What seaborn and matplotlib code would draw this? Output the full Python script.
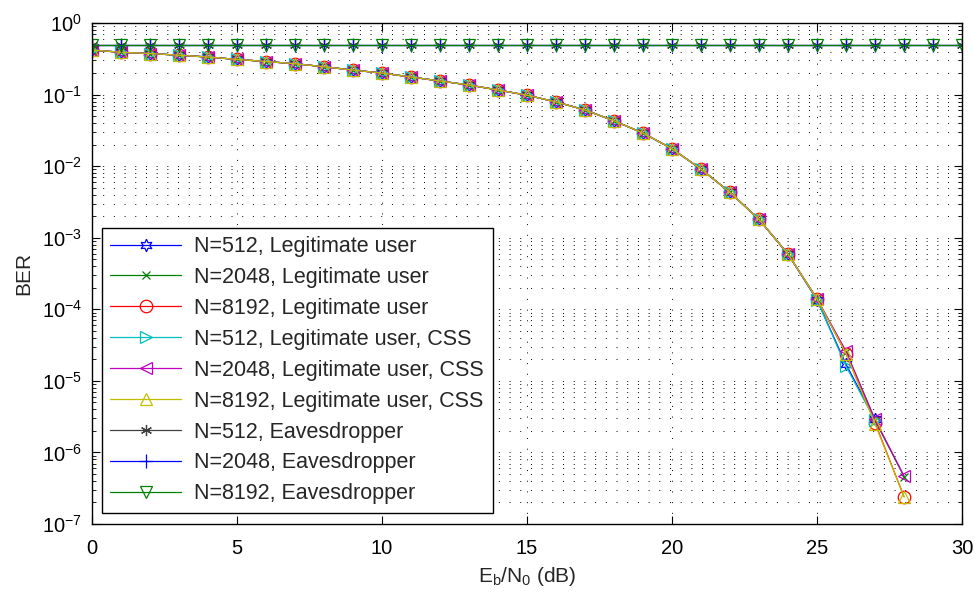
import numpy as np
import matplotlib.pyplot as plt
import seaborn as sns
from matplotlib.ticker import LogLocator, NullFormatter, LogFormatterSciNotation

sns.set_style('ticks')
plt.rcParams['font.family'] = ['Liberation Sans', 'DejaVu Sans']
plt.rcParams['mathtext.fontset'] = 'custom'
plt.rcParams['mathtext.rm'] = 'Liberation Sans'
plt.rcParams['mathtext.it'] = 'Liberation Sans'

# Eb/N0 (dB) grids
snr_legit28 = list(range(0, 29))
snr_legit27 = list(range(0, 28))
snr_eve = list(range(0, 31))

# BER of the legitimate user
ber_512 = [0.42, 0.39, 0.375, 0.355, 0.335, 0.31, 0.29, 0.27, 0.245, 0.22,
           0.2, 0.176, 0.155, 0.136, 0.116, 0.098, 0.079, 0.061, 0.043, 0.029,
           0.0175, 0.0091, 0.0043, 0.0018, 5.9e-4, 1.35e-4, 1.7e-5, 2.9e-6]
ber_2048 = [0.42, 0.39, 0.375, 0.355, 0.335, 0.31, 0.29, 0.27, 0.245, 0.22,
            0.2, 0.176, 0.155, 0.136, 0.116, 0.098, 0.079, 0.061, 0.043, 0.029,
            0.0175, 0.0091, 0.0043, 0.0018, 5.9e-4, 1.4e-4, 2.5e-5, 2.8e-6, 4.6e-7]
ber_8192 = [0.42, 0.39, 0.375, 0.355, 0.335, 0.31, 0.29, 0.27, 0.245, 0.22,
            0.2, 0.176, 0.155, 0.136, 0.116, 0.098, 0.079, 0.061, 0.043, 0.029,
            0.0175, 0.0091, 0.0043, 0.0018, 5.9e-4, 1.4e-4, 2.4e-5, 2.6e-6, 2.4e-7]
ber_512_css = [0.42, 0.39, 0.375, 0.355, 0.335, 0.31, 0.29, 0.27, 0.245, 0.22,
               0.2, 0.176, 0.155, 0.136, 0.116, 0.098, 0.079, 0.061, 0.043, 0.029,
               0.0175, 0.0091, 0.0043, 0.0018, 5.9e-4, 1.35e-4, 1.6e-5, 2.8e-6]
ber_2048_css = [0.42, 0.39, 0.375, 0.355, 0.335, 0.31, 0.29, 0.27, 0.245, 0.22,
                0.2, 0.176, 0.155, 0.136, 0.116, 0.098, 0.079, 0.061, 0.043, 0.029,
                0.0175, 0.0091, 0.0043, 0.0018, 5.9e-4, 1.4e-4, 2.6e-5, 2.9e-6, 4.7e-7]
ber_8192_css = [0.42, 0.39, 0.375, 0.355, 0.335, 0.31, 0.29, 0.27, 0.245, 0.22,
                0.2, 0.176, 0.155, 0.136, 0.116, 0.098, 0.079, 0.061, 0.043, 0.029,
                0.0175, 0.0091, 0.0043, 0.0018, 5.9e-4, 1.4e-4, 2.4e-5, 2.5e-6, 2.4e-7]

# BER of the eavesdropper (stays around 0.5)
ber_eve_512 = [0.5, 0.5, 0.5, 0.5, 0.5, 0.5, 0.5, 0.5, 0.5, 0.5, 0.5,
               0.5, 0.5, 0.5, 0.5, 0.5, 0.5, 0.5, 0.5, 0.5, 0.5,
               0.5, 0.5, 0.5, 0.5, 0.5, 0.5, 0.5, 0.5, 0.5, 0.5]
ber_eve_2048 = [0.5, 0.5, 0.5, 0.5, 0.5, 0.5, 0.5, 0.5, 0.5, 0.5, 0.5,
                0.5, 0.5, 0.5, 0.5, 0.5, 0.5, 0.5, 0.5, 0.5, 0.5,
                0.5, 0.5, 0.5, 0.5, 0.5, 0.5, 0.5, 0.5, 0.5, 0.5]
ber_eve_8192 = [0.5, 0.5, 0.5, 0.5, 0.5, 0.5, 0.5, 0.5, 0.5, 0.5, 0.5,
                0.5, 0.5, 0.5, 0.5, 0.5, 0.5, 0.5, 0.5, 0.5, 0.5,
                0.5, 0.5, 0.5, 0.5, 0.5, 0.5, 0.5, 0.5, 0.5, 0.5]

labels = ['N=512, Legitimate user', 'N=2048, Legitimate user',
          'N=8192, Legitimate user', 'N=512, Legitimate user, CSS',
          'N=2048, Legitimate user, CSS', 'N=8192, Legitimate user, CSS',
          'N=512, Eavesdropper', 'N=2048, Eavesdropper', 'N=8192, Eavesdropper']

x_ticks = [0, 5, 10, 15, 20, 25, 30]
y_ticks = [1e-7, 1e-6, 1e-5, 1e-4, 1e-3, 1e-2, 1e-1, 1e0]

series = [
    (snr_legit27, ber_512, (0, 0, 1), (6, 1, 0), 9),
    (snr_legit28, ber_2048, (0, 0.5, 0), 'x', 6),
    (snr_legit28, ber_8192, (1, 0, 0), 'o', 9),
    (snr_legit27, ber_512_css, (0, 0.75, 0.75), '>', 9),
    (snr_legit28, ber_2048_css, (0.75, 0, 0.75), '<', 9),
    (snr_legit28, ber_8192_css, (0.75, 0.75, 0), '^', 9),
    (snr_eve, ber_eve_512, (0.25, 0.25, 0.25), (6, 2, 0), 8),
    (snr_eve, ber_eve_2048, (0, 0, 1), '+', 10),
    (snr_eve, ber_eve_8192, (0, 0.5, 0), 'v', 9),
]

fig = plt.figure(figsize=(9.74, 5.92), dpi=100)
ax = fig.add_axes([0.0945, 0.1149, 0.8932, 0.8462])

for (xs, ys, col, mk, ms), lab in zip(series, labels):
    sns.lineplot(x=xs, y=ys, ax=ax, color=col, marker=mk, markersize=ms,
                 markerfacecolor='none', markeredgecolor=col,
                 markeredgewidth=0.9, linewidth=0.9, label=lab)

ax.set_yscale('log')
ax.set_xlim(0, 30)
ax.set_ylim(1e-7, 1)
ax.set_xticks(x_ticks)
ax.set_yticks(y_ticks)
ax.yaxis.set_major_formatter(LogFormatterSciNotation())
ax.yaxis.set_minor_locator(LogLocator(base=10, subs=np.arange(2, 10), numticks=100))
ax.yaxis.set_minor_formatter(NullFormatter())
ax.set_ylim(1e-7, 1)

dots = (0, (1, 10))
ax.grid(True, which='major', axis='both', linestyle=dots, color='black',
        linewidth=0.7)
ax.grid(True, which='minor', axis='y', linestyle=dots, color='black',
        linewidth=0.7)

ax.tick_params(which='both', direction='in', top=True, right=True,
               labelsize=14.5, colors='black')
ax.tick_params(which='major', length=6)
ax.tick_params(which='minor', length=3)
ax.tick_params(axis='x', which='major', pad=11)
ax.tick_params(axis='y', which='major', pad=7)
for sp in ax.spines.values():
    sp.set_color('black')
    sp.set_linewidth(1.0)

ax.set_xlabel(r'$\mathrm{E_b/N_0}$ (dB)', fontsize=15, labelpad=5)
ax.set_ylabel('BER', fontsize=15, labelpad=6)

leg = ax.legend(loc='lower left', bbox_to_anchor=(0.011, 0.022), fontsize=15.5,
                frameon=True, fancybox=False, framealpha=1, edgecolor='black',
                handlelength=3.3, labelspacing=0.46, borderaxespad=0,
                borderpad=0.4, handletextpad=0.6)
leg.get_frame().set_linewidth(1.0)

plt.savefig('out.png', dpi=100)
